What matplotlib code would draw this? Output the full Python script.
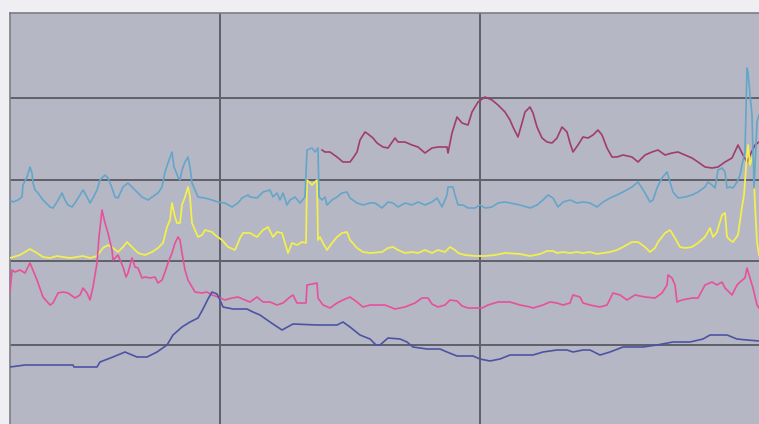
import matplotlib
matplotlib.use("Agg")
import matplotlib.pyplot as plt

# five recorder traces, time in minutes from the left edge, level in chart units
navy_t = [0, 15, 63, 64, 87, 90, 103, 115, 127, 137, 147, 157, 163, 172, 180, 188, 193, 198, 202, 207,
          210, 213, 223, 237, 243, 250, 260, 272, 283, 307, 327, 333, 340, 350, 360, 366, 370, 378, 390, 397,
          403, 417, 430, 437, 447, 463, 470, 480, 490, 500, 523, 533, 547, 557, 563, 573, 580, 590, 600, 613,
          633, 647, 663, 680, 693, 700, 717, 727, 737, 749]
navy_v = [57, 59, 59, 57, 57, 62, 67, 72, 67, 67, 72, 79, 89, 97, 102, 106, 115, 125, 132, 130,
          124, 117, 115, 115, 112, 109, 102, 94, 100, 99, 99, 102, 97, 89, 85, 79, 79, 86, 85, 82,
          77, 75, 75, 72, 68, 68, 65, 63, 65, 69, 69, 72, 74, 74, 72, 74, 74, 69, 72, 77,
          77, 79, 82, 82, 85, 89, 89, 85, 84, 83]

pink_t = [0, 2, 5, 10, 15, 20, 27, 33, 40, 43, 48, 53, 58, 65, 70, 73, 77, 80, 83, 87,
          89, 92, 95, 98, 102, 103, 108, 113, 116, 118, 122, 125, 128, 132, 135, 140, 145, 148, 152, 155,
          158, 162, 165, 168, 170, 172, 175, 178, 182, 185, 192, 197, 202, 208, 215, 222, 228, 235, 240, 247,
          253, 260, 267, 273, 280, 283, 287, 296, 297, 307, 308, 313, 320, 327, 333, 340, 347, 353, 360, 367,
          375, 385, 395, 405, 412, 418, 422, 428, 435, 440, 447, 452, 458, 465, 472, 478, 488, 500, 510, 520,
          523, 533, 540, 547, 553, 560, 563, 570, 573, 580, 590, 597, 603, 610, 617, 625, 635, 645, 652, 657,
          658, 662, 665, 667, 672, 682, 688, 695, 702, 707, 712, 715, 722, 727, 730, 735, 737, 740, 743, 747,
          749]
pink_v = [132, 154, 152, 154, 151, 161, 144, 127, 119, 121, 131, 132, 131, 126, 129, 136, 131, 124, 137, 161,
          187, 214, 201, 191, 174, 164, 169, 157, 147, 151, 166, 157, 156, 146, 147, 146, 147, 141, 144, 152,
          161, 171, 181, 187, 184, 171, 154, 144, 137, 132, 131, 132, 129, 127, 124, 126, 127, 124, 122, 127,
          122, 122, 119, 121, 127, 129, 121, 121, 139, 141, 126, 119, 116, 121, 124, 127, 122, 117, 119, 119,
          119, 115, 117, 121, 126, 126, 120, 117, 119, 124, 123, 118, 116, 116, 116, 119, 122, 122, 119, 117,
          116, 119, 122, 121, 119, 121, 129, 127, 121, 119, 117, 119, 131, 129, 124, 129, 127, 126, 131, 139,
          149, 146, 139, 122, 124, 126, 126, 139, 142, 139, 142, 136, 129, 139, 142, 146, 156, 146, 136, 119,
          116]

yellow_t = [0, 10, 20, 27, 33, 40, 47, 53, 60, 67, 73, 80, 87, 93, 98, 103, 108, 113, 117, 122,
            128, 135, 142, 148, 153, 157, 160, 162, 165, 167, 170, 172, 175, 178, 180, 182, 185, 188, 192, 195,
            202, 205, 212, 218, 225, 230, 233, 240, 247, 253, 258, 263, 267, 272, 275, 278, 282, 287, 292, 296,
            297, 302, 307, 308, 310, 313, 317, 322, 327, 332, 337, 340, 347, 353, 360, 372, 378, 383, 388, 395,
            402, 408, 415, 422, 428, 435, 440, 445, 448, 455, 465, 475, 485, 495, 510, 520, 530, 537, 543, 547,
            553, 560, 567, 573, 580, 587, 593, 600, 607, 613, 622, 628, 635, 640, 645, 648, 655, 660, 665, 670,
            675, 682, 688, 695, 700, 703, 707, 712, 715, 717, 720, 723, 728, 732, 734, 737, 738, 740, 743, 745,
            747, 749]
yellow_v = [166, 169, 175, 171, 167, 166, 168, 167, 166, 167, 168, 166, 168, 176, 179, 176, 172, 177, 182, 177,
            171, 169, 172, 176, 181, 197, 204, 221, 207, 201, 201, 219, 227, 237, 227, 201, 194, 187, 189, 194,
            192, 189, 184, 177, 174, 186, 191, 191, 187, 194, 197, 187, 192, 191, 181, 171, 181, 179, 182, 181,
            244, 239, 244, 184, 187, 181, 174, 181, 187, 191, 192, 184, 176, 172, 171, 172, 176, 177, 174, 171,
            172, 171, 174, 171, 174, 172, 177, 174, 171, 169, 168, 168, 169, 171, 170, 168, 170, 173, 173, 171,
            172, 171, 172, 171, 172, 170, 171, 172, 174, 177, 182, 182, 177, 172, 176, 182, 191, 194, 186, 177,
            176, 177, 181, 187, 196, 187, 192, 209, 211, 187, 184, 182, 189, 217, 229, 269, 279, 259, 269, 219,
            182, 169]

sky_t = [0, 3, 8, 12, 13, 17, 20, 22, 23, 25, 28, 33, 40, 43, 47, 52, 55, 58, 62, 65,
         70, 73, 77, 80, 83, 87, 90, 95, 98, 102, 105, 108, 113,
         118, 125, 132, 138, 145, 148, 152, 155, 158, 162, 164, 168, 170, 172, 175, 178, 180, 182, 185, 188,
         195, 202, 208, 215, 222, 228, 232, 238,
         240, 247, 253, 260, 263, 267, 270, 273, 277, 280, 285, 290, 295, 297, 302, 305, 308, 309, 312, 315,
         317, 322, 327, 332, 337, 340, 347, 353, 360,
         365, 372, 378, 383, 388, 395, 402, 408, 415, 422, 427, 432, 437, 438, 443, 445, 448, 453, 458, 465,
         470, 475, 482, 488,
         495, 500, 510, 520, 527, 533, 538, 543, 548, 553, 560, 567, 573, 580, 587, 593, 600, 607, 613,
         622, 628, 632, 635, 640, 643, 647, 652, 657, 660, 663, 668, 675, 682, 688, 695, 698, 702, 705, 708,
         712, 715, 717, 720, 723, 727, 730, 732, 735, 737, 738, 740, 742, 743, 744, 747, 749]
sky_v = [224, 222, 224, 227, 239, 247, 257, 251, 241, 234, 231, 224, 217, 216, 222, 231, 224, 219, 217, 221,
         229, 234, 227, 221, 226, 234, 244, 249, 246, 236, 227, 226, 237,
         241, 234, 227, 224, 229, 231, 237, 252, 261, 272, 257, 247, 244, 254, 262, 267, 257, 241, 234, 227,
         226, 224, 222, 221, 217, 221, 226, 229,
         227, 226, 232, 234, 227, 231, 224, 231, 219, 224, 227, 221, 227, 274, 276, 272, 276, 227, 224, 227,
         219, 224, 227, 231, 232, 226, 221, 219, 221,
         221, 216, 222, 221, 217, 221, 219, 222, 219, 222, 226, 217, 229, 237, 237, 229, 219, 219, 216, 216,
         219, 216, 217, 221,
         222, 221, 219, 216, 219, 224, 229, 226, 217, 222, 224, 221, 222, 221, 217, 222, 226, 229, 232,
         237, 242, 236, 231, 222, 224, 236, 246, 252, 242, 232, 226, 227, 229, 232, 237, 242, 239, 236, 254,
         256, 252, 236, 237, 236, 242, 249, 259, 272, 356, 352, 329, 309, 269, 236, 302, 309]

maroon_t = [312, 315, 320, 327, 333, 340, 343, 347, 350, 355, 358, 363, 367, 373, 378, 385, 388, 395, 402, 408,
            415, 422, 428, 437, 438, 442, 447, 452, 458, 462, 468, 475, 482, 488, 495, 500, 503, 508, 512, 515,
            520, 523, 527, 532, 537, 542, 547, 552, 557, 560, 563, 568, 573, 578, 583, 588, 592, 597, 602, 607,
            613, 622, 628, 635, 642, 648, 655, 662, 668, 675, 682, 688, 695, 702, 708, 715, 722, 728, 733, 737,
            740, 745, 749]
maroon_v = [274, 272, 272, 267, 262, 262, 266, 272, 284, 292, 290, 286, 281, 277, 276, 286, 282, 282, 279, 277,
            271, 276, 277, 277, 271, 291, 307, 301, 299, 312, 322, 327, 324, 319, 312, 304, 297, 287, 301, 312,
            317, 311, 297, 286, 282, 281, 286, 297, 292, 281, 272, 279, 287, 286, 289, 294, 289, 276, 267, 267,
            269, 267, 262, 269, 272, 274, 269, 271, 272, 269, 266, 262, 257, 256, 257, 262, 266, 279, 269, 262,
            269, 279, 282]

grid_t = [210, 470]
grid_v = [79, 163, 244, 326]

fig = plt.figure(figsize=(7.59, 4.24), dpi=100, facecolor="#eeeef3")
ax = fig.add_axes([10 / 759, 0, 749 / 759, 411 / 424])
ax.set_facecolor("#b5b7c4")

ax.plot(maroon_t, maroon_v, color="#a23c6e", lw=1.2, zorder=3)
ax.plot(yellow_t, yellow_v, color="#f2ef4e", lw=1.3, zorder=3)
ax.plot(sky_t, sky_v, color="#64a6c9", lw=1.2, zorder=4)
ax.plot(pink_t, pink_v, color="#e6519a", lw=1.2, zorder=4)
ax.plot(navy_t, navy_v, color="#4c54a2", lw=1.2, zorder=5)

ax.set_xlim(0, 749)
ax.set_ylim(0, 411)
ax.set_xticks(grid_t)
ax.set_yticks(grid_v)
ax.tick_params(length=0, labelbottom=False, labelleft=False)
ax.grid(True, color="#5f6068", lw=1.4, zorder=1)
for side in ["right", "bottom"]:
    ax.spines[side].set_visible(False)
for side in ["top", "left"]:
    ax.spines[side].set_color("#7c7d86")
    ax.spines[side].set_linewidth(1.2)

fig.savefig("out.png", dpi=100, facecolor=fig.get_facecolor())
